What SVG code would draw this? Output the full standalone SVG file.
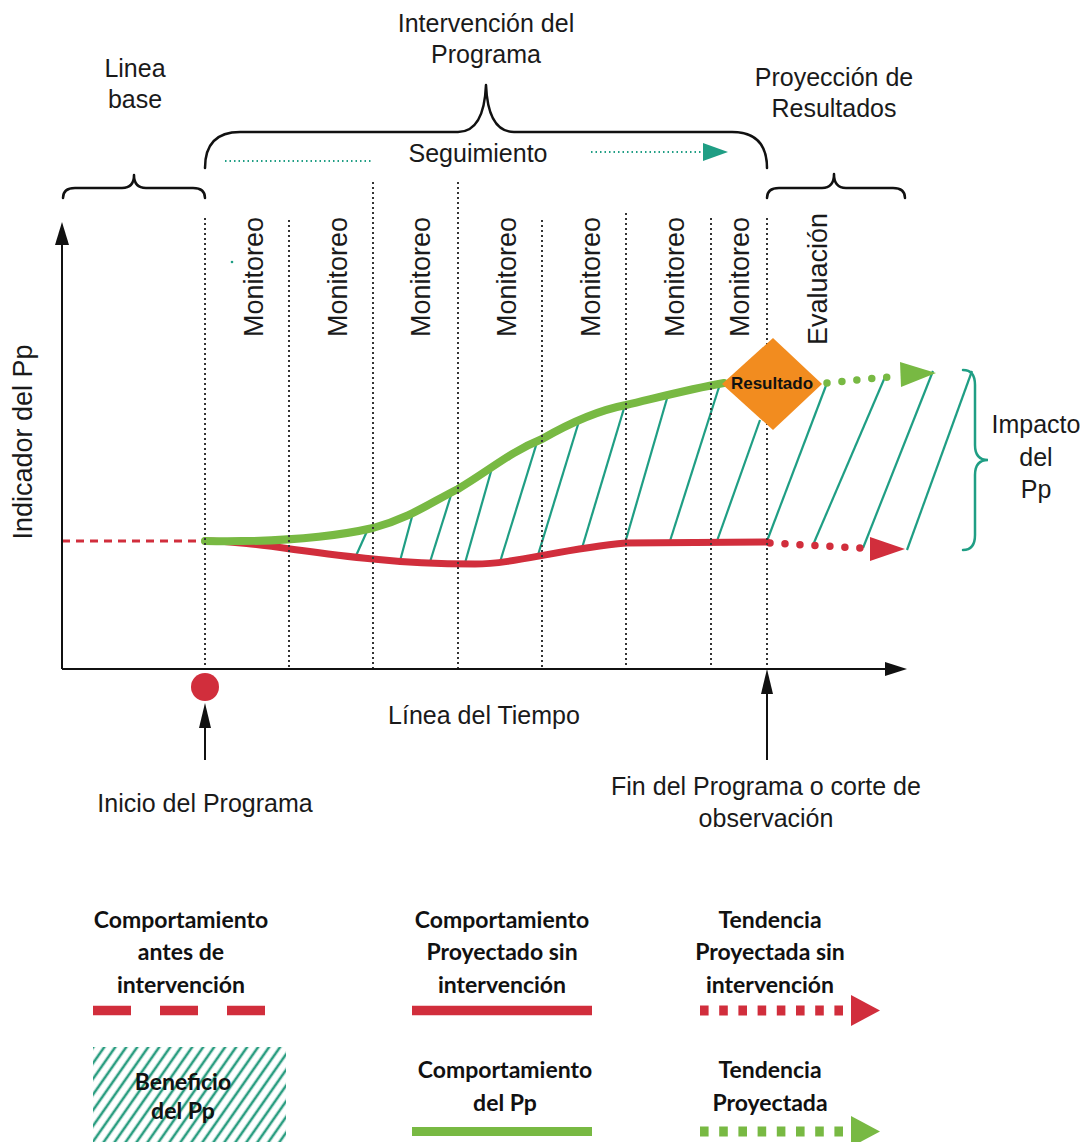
<svg xmlns="http://www.w3.org/2000/svg" width="1087" height="1142" viewBox="0 0 1087 1142">
<style>
.t{font-family:"Liberation Sans",Arial,sans-serif;font-size:25px;fill:#1a1a1a;text-anchor:middle}
.r{font-family:"Liberation Sans",Arial,sans-serif;font-size:27px;fill:#1a1a1a;text-anchor:middle}
.lg{font-family:Lato,"Liberation Sans",sans-serif;font-size:23px;font-weight:bold;fill:#111;text-anchor:middle}
.brace{fill:none;stroke:#111;stroke-width:2.5;stroke-linecap:round;stroke-linejoin:round}
.axis{stroke:#111;stroke-width:2;fill:none}
.dot{stroke:#333;stroke-width:2;stroke-dasharray:2 3;fill:none}
.hatch{stroke:#1F9E84;stroke-width:2.2;fill:none}
.red{stroke:#D12E3C;fill:none}
.green{stroke:#78B943;fill:none}
.teal{stroke:#1F9E84;fill:none}
</style>
<defs>
<pattern id="stripes" width="9" height="9" patternUnits="userSpaceOnUse" patternTransform="rotate(35)">
<rect width="9" height="9" fill="#fff"/>
<line x1="2" y1="0" x2="2" y2="9" stroke="#2A9D80" stroke-width="2.6"/>
</pattern>
</defs>
<rect width="1087" height="1142" fill="#fff"/>

<g id="headers">
<text class="t" x="135" y="77">Linea</text>
<text class="t" x="135" y="108">base</text>
<text class="t" x="486" y="32">Intervención del</text>
<text class="t" x="486" y="63">Programa</text>
<text class="t" x="834" y="86">Proyección de</text>
<text class="t" x="834" y="117">Resultados</text>
</g>

<g id="braces">
<path class="brace" d="M63,198 Q63,188 75,188 L122,188 Q134,188 134,175 Q134,188 146,188 L193,188 Q205,188 205,198"/>
<path class="brace" d="M205,168 Q205,132 240,132 L458,132 Q484,132 486,85 Q488,132 514,132 L732,132 Q767,132 767,168"/>
<path class="brace" d="M767,198 Q767,188 779,188 L822,188 Q834,188 834,174 Q834,188 846,188 L893,188 Q905,188 905,198"/>
</g>

<g id="seguimiento">
<text class="t" x="478" y="162">Seguimiento</text>
<line class="teal" x1="225" y1="161" x2="373" y2="161" stroke-width="2" stroke-dasharray="1.5 3"/>
<line class="teal" x1="591" y1="152" x2="703" y2="152" stroke-width="2" stroke-dasharray="1.5 3"/>
<polygon points="703,143 728,152 703,161" fill="#1F9E84"/>
<circle cx="232" cy="262" r="1.3" fill="#1F9E84"/>
</g>

<g id="hatch">
<line class="hatch" x1="355" y1="558" x2="368" y2="529"/>
<line class="hatch" x1="400" y1="561" x2="413" y2="513"/>
<line class="hatch" x1="430" y1="562" x2="452" y2="492"/>
<line class="hatch" x1="465" y1="563" x2="492" y2="468"/>
<line class="hatch" x1="500" y1="562" x2="538" y2="439"/>
<line class="hatch" x1="538" y1="555" x2="580" y2="418"/>
<line class="hatch" x1="582" y1="548" x2="625" y2="405"/>
<line class="hatch" x1="625" y1="543" x2="668" y2="395"/>
<line class="hatch" x1="670" y1="541" x2="720" y2="384"/>
<line class="hatch" x1="717" y1="541" x2="760" y2="420"/>
<line class="hatch" x1="767" y1="541" x2="827" y2="383"/>
<line class="hatch" x1="813" y1="545" x2="885" y2="377"/>
<line class="hatch" x1="863" y1="548" x2="933" y2="371"/>
<line class="hatch" x1="907" y1="550" x2="972" y2="371"/>
</g>

<g id="curves">
<line class="red" x1="62" y1="541" x2="205" y2="541" stroke-width="3" stroke-dasharray="8 6"/>
<path class="red" stroke-width="7" stroke-linecap="round" d="M205,541 C250,541 300,552 373,559 C410,563 440,564 475,564 C515,564 560,549 626,543 L767,542"/>
<path class="green" stroke-width="8" stroke-linecap="round" d="M205,541 C260,542 320,540 373,528 C410,518 430,503 458,489 C490,470 510,452 542,439 C575,420 600,410 626,405 C660,397 690,389 724,383"/>
<path class="red" stroke-width="7.5" stroke-linecap="round" stroke-dasharray="0 15" d="M770,543 L860,548"/>
<polygon points="870,537 905,549 870,561" fill="#D12E3C"/>
<path class="green" stroke-width="7.5" stroke-linecap="round" stroke-dasharray="0 15" d="M827,383 L888,377"/>
<polygon points="900,362 936,373 901,387" fill="#78B943"/>
</g>

<g id="impacto">
<path class="teal" stroke-width="2.5" stroke-linecap="round" d="M963,370 Q975,370 975,385 L975,445 Q975,460 988,460 Q975,460 975,475 L975,535 Q975,550 963,550"/>
<text class="t" x="1036" y="433">Impacto</text>
<text class="t" x="1036" y="466">del</text>
<text class="t" x="1036" y="498">Pp</text>
</g>

<g id="gridlines">
<line class="dot" x1="205" y1="218" x2="205" y2="669"/>
<line class="dot" x1="289" y1="220" x2="289" y2="669"/>
<line class="dot" x1="373" y1="182" x2="373" y2="669"/>
<line class="dot" x1="458" y1="182" x2="458" y2="669"/>
<line class="dot" x1="542" y1="220" x2="542" y2="669"/>
<line class="dot" x1="626" y1="213" x2="626" y2="669"/>
<line class="dot" x1="711" y1="218" x2="711" y2="669"/>
<line class="dot" x1="767" y1="218" x2="767" y2="669"/>
</g>

<g id="resultado">
<polygon points="773,338 822,384 773,430 722,384" fill="#F28C1F"/>
<text x="772" y="389" font-family="Liberation Sans,Arial,sans-serif" font-size="17" font-weight="bold" fill="#111" text-anchor="middle">Resultado</text>
</g>

<g id="phases">
<text class="r" transform="translate(263,277) rotate(-90)">Monitoreo</text>
<text class="r" transform="translate(347,277) rotate(-90)">Monitoreo</text>
<text class="r" transform="translate(430,277) rotate(-90)">Monitoreo</text>
<text class="r" transform="translate(516,277) rotate(-90)">Monitoreo</text>
<text class="r" transform="translate(600,277) rotate(-90)">Monitoreo</text>
<text class="r" transform="translate(684,277) rotate(-90)">Monitoreo</text>
<text class="r" transform="translate(749,277) rotate(-90)">Monitoreo</text>
<text class="r" transform="translate(827,279) rotate(-90)">Evaluación</text>
</g>

<g id="axes">
<line class="axis" x1="62" y1="669" x2="62" y2="240"/>
<polygon points="62,222 55,245 69,245" fill="#111"/>
<line class="axis" x1="62" y1="669" x2="890" y2="669"/>
<polygon points="907,669 885,662 885,676" fill="#111"/>
<text class="r" transform="translate(32,442) rotate(-90)">Indicador del Pp</text>
<text class="t" x="484" y="724">Línea del Tiempo</text>
</g>

<g id="inicio">
<circle cx="205" cy="687" r="14" fill="#D12E3C"/>
<line class="axis" x1="205" y1="760" x2="205" y2="725"/>
<polygon points="205,703 199,728 211,728" fill="#111"/>
<text class="t" x="205" y="812">Inicio del Programa</text>
</g>

<g id="fin">
<line class="axis" x1="767" y1="760" x2="767" y2="690"/>
<polygon points="767,669 761,694 773,694" fill="#111"/>
<text class="t" x="766" y="795">Fin del Programa o corte de</text>
<text class="t" x="766" y="827">observación</text>
</g>

<g id="legend-antes">
<text class="lg" x="181" y="928">Comportamiento</text>
<text class="lg" x="181" y="960">antes de</text>
<text class="lg" x="181" y="993">intervención</text>
<line x1="93" y1="1010.5" x2="266" y2="1010.5" stroke="#D12E3C" stroke-width="9.5" stroke-dasharray="38 29"/>
</g>

<g id="legend-beneficio">
<rect x="93" y="1047" width="193" height="100" fill="url(#stripes)"/>
<text class="lg" x="183" y="1090">Beneficio</text>
<text class="lg" x="183" y="1119">del Pp</text>
</g>

<g id="legend-sin">
<text class="lg" x="502" y="928">Comportamiento</text>
<text class="lg" x="502" y="960">Proyectado sin</text>
<text class="lg" x="502" y="993">intervención</text>
<line x1="412" y1="1010.5" x2="592" y2="1010.5" stroke="#D12E3C" stroke-width="9.5"/>
</g>

<g id="legend-pp">
<text class="lg" x="505" y="1078">Comportamiento</text>
<text class="lg" x="505" y="1111">del Pp</text>
<line x1="412" y1="1131.5" x2="592" y2="1131.5" stroke="#78B943" stroke-width="9"/>
</g>

<g id="legend-tendencia-sin">
<text class="lg" x="770" y="928">Tendencia</text>
<text class="lg" x="770" y="960">Proyectada sin</text>
<text class="lg" x="770" y="993">intervención</text>
<line x1="700" y1="1010.5" x2="846" y2="1010.5" stroke="#D12E3C" stroke-width="10" stroke-dasharray="8.6 10.6"/>
<polygon points="851,995 880,1010.5 851,1026" fill="#D12E3C"/>
</g>

<g id="legend-tendencia">
<text class="lg" x="770" y="1078">Tendencia</text>
<text class="lg" x="770" y="1111">Proyectada</text>
<line x1="700" y1="1131.5" x2="846" y2="1131.5" stroke="#78B943" stroke-width="10" stroke-dasharray="8.6 10.6"/>
<polygon points="851,1116 880,1131.5 851,1147" fill="#78B943"/>
</g>
</svg>
